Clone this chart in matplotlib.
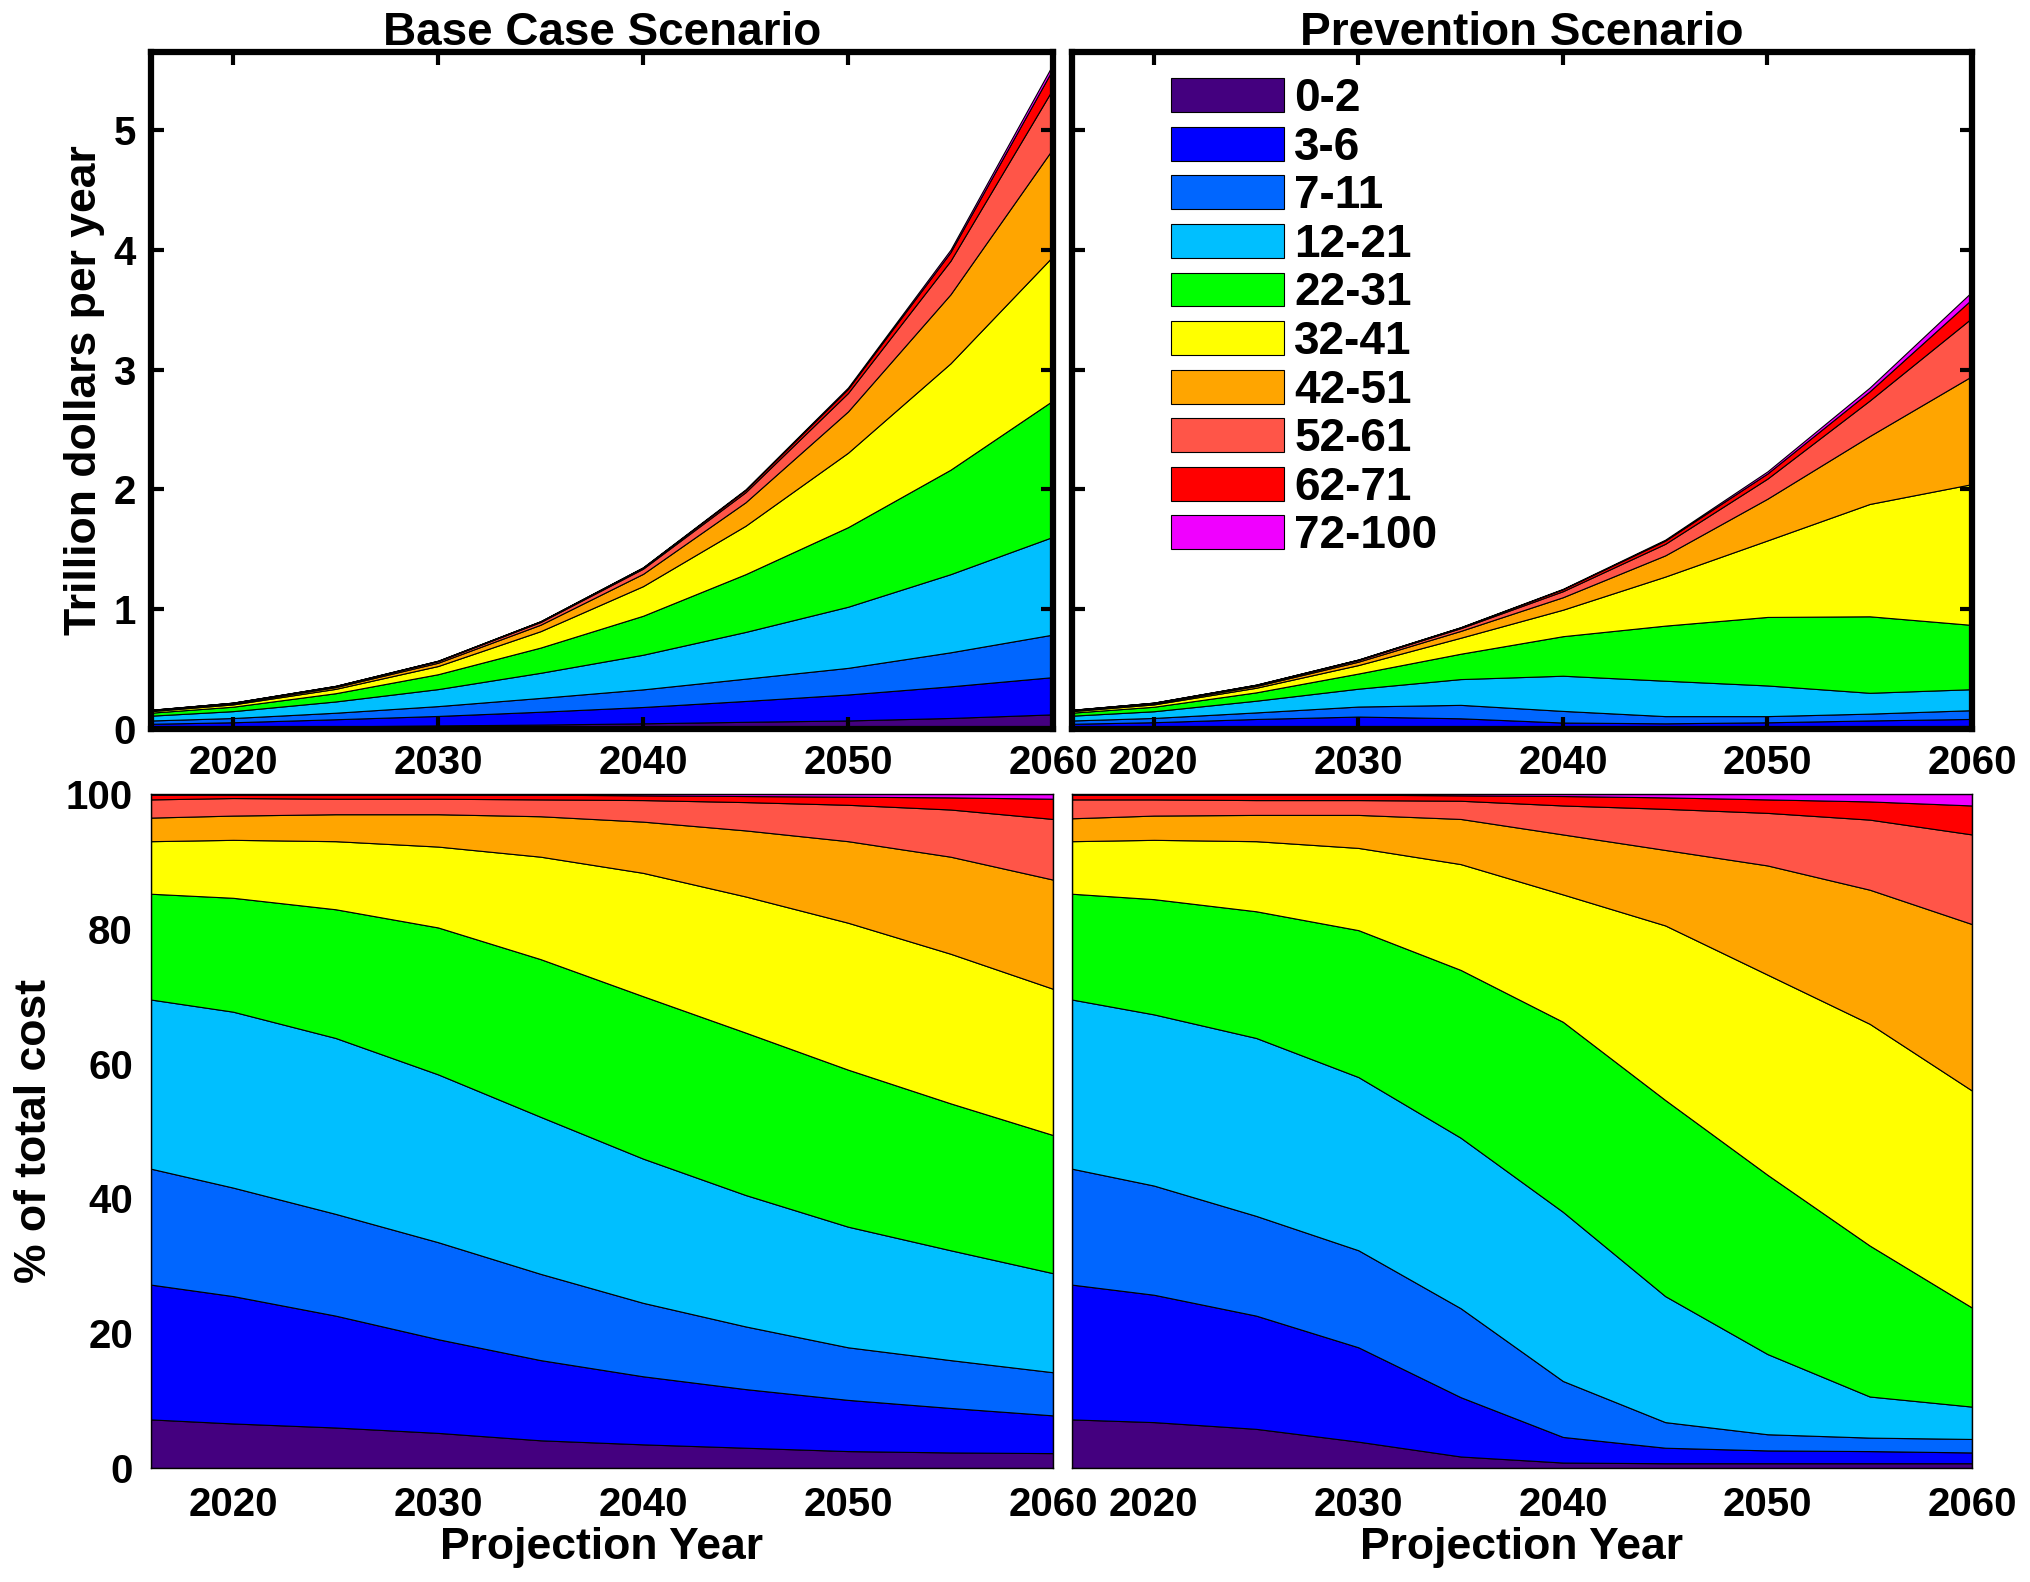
import numpy as np
import matplotlib
matplotlib.use("Agg")
import matplotlib.pyplot as plt

plt.rcParams['font.family'] = ['Liberation Sans', 'DejaVu Sans']
plt.rcParams['font.weight'] = 'bold'

# projection years (5-year steps after the 2016 start)
years = [2016, 2020, 2025, 2030, 2035, 2040, 2045, 2050, 2055, 2060]
age_groups = ['0-2', '3-6', '7-11', '12-21', '22-31', '32-41', '42-51',
              '52-61', '62-71', '72-100']
colors = ['#44007f', '#0000ff', '#0066ff', '#00bfff', '#00ff00', '#ffff00',
          '#ffa500', '#ff5548', '#ff0000', '#f000ff']

# total cost, trillion dollars per year
base_total = [0.16, 0.22, 0.36, 0.57, 0.90, 1.35, 2.00, 2.85, 4.00, 5.55]
prev_total = [0.16, 0.22, 0.37, 0.58, 0.85, 1.17, 1.58, 2.15, 2.85, 3.65]

# share of total cost (%) per age group, base case
base_share = [
    [7.2, 6.6, 6.0, 5.2, 4.1, 3.5, 3.0, 2.5, 2.3, 2.2],
    [20.0, 18.9, 16.6, 13.9, 11.9, 10.1, 8.7, 7.6, 6.6, 5.6],
    [17.2, 16.1, 15.1, 14.4, 12.8, 10.9, 9.3, 7.8, 7.1, 6.4],
    [25.1, 26.1, 26.1, 24.9, 23.3, 21.4, 19.5, 17.9, 16.3, 14.7],
    [15.7, 16.9, 19.1, 21.8, 23.4, 24.1, 24.1, 23.3, 21.8, 20.5],
    [7.8, 8.6, 10.1, 12.0, 15.2, 18.3, 20.2, 21.8, 22.2, 21.7],
    [3.5, 3.6, 4.0, 4.8, 6.0, 7.6, 9.8, 12.1, 14.4, 16.2],
    [2.7, 2.6, 2.3, 2.3, 2.5, 3.2, 4.2, 5.4, 7.0, 9.0],
    [0.7, 0.5, 0.6, 0.6, 0.7, 0.7, 0.9, 1.2, 1.8, 3.0],
    [0.1, 0.1, 0.1, 0.1, 0.1, 0.2, 0.3, 0.4, 0.5, 0.7],
]

# share of total cost (%) per age group, prevention scenario
prev_share = [
    [7.2, 6.8, 5.8, 3.9, 1.7, 0.8, 0.7, 0.7, 0.7, 0.7],
    [20.0, 18.9, 16.8, 14.0, 8.8, 3.8, 2.3, 1.9, 1.8, 1.6],
    [17.2, 16.2, 14.8, 14.4, 13.2, 8.3, 3.8, 2.4, 2.0, 2.0],
    [25.1, 25.4, 26.4, 25.7, 25.3, 25.1, 18.7, 11.9, 6.1, 4.8],
    [15.7, 17.1, 18.8, 21.8, 24.9, 28.2, 29.1, 26.6, 22.4, 14.7],
    [7.8, 8.8, 10.4, 12.2, 15.7, 18.9, 25.9, 29.7, 32.9, 32.2],
    [3.4, 3.6, 3.9, 4.9, 6.7, 8.9, 11.2, 16.2, 19.9, 24.7],
    [2.8, 2.4, 2.2, 2.2, 2.7, 4.3, 6.1, 7.8, 10.4, 13.3],
    [0.7, 0.7, 0.8, 0.8, 0.8, 1.4, 1.7, 2.0, 2.7, 4.3],
    [0.1, 0.1, 0.1, 0.1, 0.2, 0.3, 0.5, 0.8, 1.1, 1.7],
]

tick_fs = 29
label_fs = 32

fig = plt.figure(figsize=(20.3, 15.82), dpi=100)
ax_tl = fig.add_axes([0.0744, 0.5392, 0.4443, 0.4279])
ax_tr = fig.add_axes([0.5281, 0.5392, 0.4433, 0.4279])
ax_bl = fig.add_axes([0.0744, 0.0721, 0.4443, 0.4260])
ax_br = fig.add_axes([0.5281, 0.0721, 0.4433, 0.4260])

for ax_top, ax_bot, total, share, title in [
        (ax_tl, ax_bl, base_total, base_share, 'Base Case Scenario'),
        (ax_tr, ax_br, prev_total, prev_share, 'Prevention Scenario')]:
    s = np.array(share)
    s = s / s.sum(axis=0) * 100
    cost = s / 100 * np.array(total)

    ax_top.stackplot(years, cost, colors=colors, labels=age_groups,
                     edgecolor='black', linewidth=0.8)
    ax_bot.stackplot(years, s, colors=colors,
                     edgecolor='black', linewidth=0.8)

    ax_top.set_xlim(2016, 2060)
    ax_top.set_ylim(0, 5.65)
    ax_top.set_xticks([2020, 2030, 2040, 2050, 2060])
    ax_top.set_yticks([0, 1, 2, 3, 4, 5])
    ax_top.tick_params(direction='in', top=True, right=True, length=9,
                       width=3, labelsize=tick_fs, pad=11)
    for sp in ax_top.spines.values():
        sp.set_linewidth(4.5)
    ax_top.set_title(title, fontsize=33, fontweight='bold', pad=5)

    ax_bot.set_xlim(2016, 2060)
    ax_bot.set_ylim(0, 100)
    ax_bot.set_xticks([2020, 2030, 2040, 2050, 2060])
    ax_bot.set_yticks([0, 20, 40, 60, 80, 100])
    ax_bot.tick_params(length=0, labelsize=tick_fs, pad=13)
    for sp in ax_bot.spines.values():
        sp.set_linewidth(1.0)
    ax_bot.set_xlabel('Projection Year', fontsize=label_fs,
                      fontweight='bold', labelpad=2)

ax_tr.tick_params(labelleft=False)
ax_br.tick_params(labelleft=False)
ax_tl.set_ylabel('Trillion dollars per year', fontsize=label_fs,
                 fontweight='bold', labelpad=6)
ax_bl.set_ylabel('% of total cost', fontsize=label_fs,
                 fontweight='bold', labelpad=8)

ax_tr.legend(loc='upper left', bbox_to_anchor=(0.11, 0.963), borderaxespad=0,
             frameon=False, fontsize=33, handlelength=2.47,
             handleheight=0.76, labelspacing=0.1, handletextpad=0.22,
             borderpad=0)

fig.savefig('out.png', dpi=100)
